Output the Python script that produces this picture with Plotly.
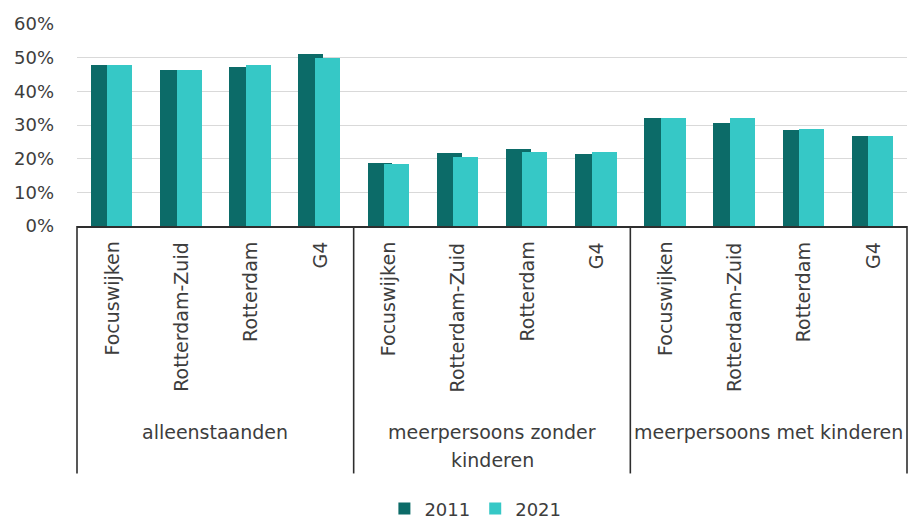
import plotly.graph_objects as go

# Household types (outer level) and areas (inner level)
groups = ["alleenstaanden", "meerpersoons zonder<br>kinderen", "meerpersoons met kinderen"]
areas = ["Focuswijken", "Rotterdam-Zuid", "Rotterdam", "G4"]

# Share of households per type (%), per year
share_2011 = [47.8, 46.4, 47.3, 51.0,
              18.6, 21.6, 22.8, 21.3,
              32.0, 30.6, 28.4, 26.8]
share_2021 = [47.8, 46.4, 47.8, 50.0,
              18.4, 20.6, 22.0, 22.0,
              32.1, 32.0, 28.7, 26.8]

y_ticks = [0, 10, 20, 30, 40, 50, 60]
y_tick_labels = ["0%", "10%", "20%", "30%", "40%", "50%", "60%"]

DARK = "#0c6b68"
LIGHT = "#36c8c6"
TEXT = "#3d3d3d"
FONT = "DejaVu Sans"

n_cat = len(groups) * len(areas)
xs = list(range(n_cat))

fig = go.Figure()
fig.add_trace(go.Bar(x=xs, y=share_2011, name="2011", marker_color=DARK,
                     width=0.36, offset=-0.30, marker_line_width=0))
fig.add_trace(go.Bar(x=xs, y=share_2021, name="2021", marker_color=LIGHT,
                     width=0.36, offset=-0.06, marker_line_width=0))

annotations = []
# rotated area labels under each pair of bars
for i in xs:
    annotations.append(dict(
        x=i, xref="x", y=0, yref="paper", yanchor="top", xanchor="center",
        yshift=-14, text=areas[i % len(areas)], textangle=-90, showarrow=False,
        font=dict(family=FONT, size=19, color=TEXT)))

# household-type labels, one annotation per text line
for g, label in enumerate(groups):
    centre = g * len(areas) + (len(areas) - 1) / 2
    for k, line in enumerate(label.split("<br>")):
        annotations.append(dict(
            x=centre, xref="x", y=0, yref="paper", yanchor="middle",
            xanchor="center", yshift=-206 - 28 * k, text=line, showarrow=False,
            font=dict(family=FONT, size=19, color=TEXT)))

# vertical separators of the category table under the axis
shapes = []
for g in range(len(groups) + 1):
    xp = g * len(areas) / n_cat
    shapes.append(dict(type="line", xref="paper", yref="paper",
                       x0=xp, x1=xp, y0=0, y1=-1.225,
                       line=dict(color="#2e2e2e", width=1.6)))

fig.update_layout(
    width=911, height=521,
    margin=dict(l=77, r=4, t=24, b=295, autoexpand=False),
    paper_bgcolor="white", plot_bgcolor="white",
    barmode="overlay",
    bargap=0,
    font=dict(family=FONT, size=19, color=TEXT),
    xaxis=dict(range=[-0.5, n_cat - 0.5], showticklabels=False, ticks="",
               showgrid=False, zeroline=False, showline=True,
               linecolor="#2e2e2e", linewidth=1.6, fixedrange=True),
    yaxis=dict(range=[0, 60], tickvals=y_ticks, ticktext=y_tick_labels,
               showgrid=True, gridcolor="#d9d9d9", gridwidth=1,
               zeroline=False, showline=False, ticks="",
               ticklabelstandoff=22,
               tickfont=dict(family=FONT, size=18, color=TEXT),
               fixedrange=True),
    legend=dict(orientation="h", x=0.48, xanchor="center", y=-1.40,
                yanchor="middle", font=dict(family=FONT, size=18, color=TEXT),
                itemwidth=30, traceorder="normal",
                tracegroupgap=0, borderwidth=0),
    annotations=annotations,
    shapes=shapes,
)

fig.write_html("out.html")
